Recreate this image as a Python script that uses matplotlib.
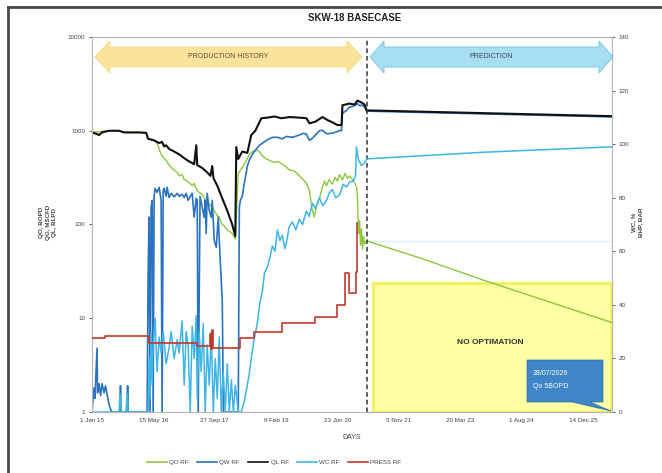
import matplotlib
matplotlib.use("Agg")
import matplotlib.pyplot as plt
import numpy as np
import pandas as pd
from matplotlib.patches import Polygon, Rectangle
from matplotlib.lines import Line2D

plt.rcParams['font.family'] = ['Liberation Sans', 'DejaVu Sans']

# ---------------- data (days since 1 Jan 2015) ----------------
start_date = "2015-01-01"
history_end_day = 2236
axis_end_day = 4235

ql_days = [0, 33, 57, 82, 139, 220, 261, 384, 441, 457, 506, 547, 570, 588, 604, 628, 669, 710, 751, 792,
           832, 849, 857, 898, 938, 965, 979, 990, 1020, 1061, 1102, 1142, 1167, 1175, 1191, 1224, 1265, 1297, 1330, 1379,
           1428, 1485, 1542, 1608, 1689, 1746, 1771, 1820, 1877, 1918, 1958, 1999, 2032, 2040, 2097, 2138, 2162, 2195, 2220]
ql_vals = [960, 930, 900, 960, 1000, 1000, 960, 960, 950, 820, 790, 740, 760, 680, 700, 640, 600, 560, 510, 470,
           440, 700, 430, 400, 360, 330, 420, 310, 260, 190, 140, 100, 75, 670, 500, 600, 580, 900, 1000, 1360,
           1380, 1420, 1360, 1400, 1380, 1360, 1200, 1250, 1400, 1300, 1230, 1150, 1150, 1870, 1950, 1900, 2100, 2000, 1900]
ql_fc_days = [2236, 3200, 4235]
ql_fc_vals = [1650, 1540, 1430]

qw_days = [0, 16, 24, 41, 45, 57, 70, 82, 98, 110, 139, 160, 228, 232, 237, 286, 290, 294, 449, 457,
           465, 473, 481, 490, 498, 506, 514, 530, 547, 563, 571, 580, 588, 604, 612, 628, 645, 669, 694, 710,
           734, 751, 767, 783, 800, 816, 832, 849, 857, 865, 880, 898, 914, 922, 930, 938, 955, 971, 979, 996,
           1012, 1028, 1045, 1061, 1070, 1191, 1200, 1208, 1224, 1240, 1257, 1265, 1281, 1306, 1330, 1363, 1387, 1428, 1469, 1510,
           1550, 1583, 1632, 1689, 1720, 1746, 1771, 1795, 1820, 1852, 1877, 1910, 1958, 1999, 2016, 2032, 2040, 2073, 2097, 2122,
           2146, 2162, 2179, 2195, 2220]
qw_vals = [1.0, 1.8, 1.4, 4.8, 1.6, 2.0, 1.5, 2.0, 1.6, 1.9, 1.2, 1.0, 1.0, 1.9, 1.0, 1.0, 1.9, 1.0, 1.0, 30,
           120, 1.0, 150, 181, 1.0, 200, 243, 220, 249, 181, 1.0, 230, 243, 200, 249, 194, 215, 197, 215, 200,
           210, 194, 215, 181, 200, 215, 120, 190, 181, 1.0, 200, 152, 119, 181, 80, 215, 141, 119, 181, 67,
           57, 120, 40, 15, 1.0, 1.0, 152, 181, 200, 275, 360, 420, 483, 560, 618, 700, 735, 800, 850, 851,
           820, 870, 851, 900, 940, 920, 791, 830, 900, 1000, 1011, 930, 940, 980, 1011, 1000, 1538, 1650, 1783, 1820,
           1875, 1950, 1850, 1875, 1800]
qw_fc_days = [2236, 4235]
qw_fc_vals = [1620, 1405]

qo_days = [0, 139, 220, 261, 441, 457, 506, 530, 547, 563, 580, 604, 628, 645, 669, 694, 710, 734, 751, 767,
           792, 816, 832, 857, 873, 898, 922, 938, 955, 979, 996, 1020, 1036, 1061, 1077, 1093, 1110, 1142, 1167, 1191,
           1224, 1257, 1281, 1306, 1346, 1363, 1387, 1420, 1450, 1485, 1510, 1542, 1575, 1608, 1632, 1660, 1689, 1720, 1746, 1771,
           1790, 1810, 1830, 1852, 1877, 1893, 1910, 1930, 1958, 1980, 1999, 2016, 2040, 2060, 2080, 2097, 2122, 2138, 2154, 2162,
           2171, 2179, 2187, 2195, 2203, 2211, 2220]
qo_vals = [960, 1000, 1000, 960, 950, 820, 780, 735, 640, 560, 520, 483, 430, 407, 380, 360, 330, 340, 300, 296,
           280, 260, 275, 230, 220, 210, 181, 190, 165, 152, 140, 125, 118, 100, 97, 90, 86, 80, 70, 350,
           407, 480, 560, 600, 618, 600, 540, 500, 480, 460, 470, 449, 420, 380, 378, 360, 330, 300, 275, 230,
           150, 120, 160, 190, 250, 290, 260, 300, 270, 320, 290, 340, 300, 350, 310, 330, 300, 280, 250, 200,
           80, 110, 60, 90, 55, 75, 62]
qo_fc_days = [2236, 2700, 3200, 3700, 4235]
qo_fc_vals = [67, 42.7, 25.2, 15.3, 9.0]

wc_days = [0, 220, 228, 237, 277, 286, 294, 457, 465, 473, 481, 490, 498, 514, 530, 547, 563, 580, 604, 628,
           645, 669, 694, 710, 734, 751, 767, 783, 800, 816, 832, 849, 857, 873, 889, 906, 922, 938, 955, 971,
           988, 1004, 1020, 1036, 1053, 1069, 1085, 1102, 1118, 1135, 1151, 1167, 1191, 1216, 1240, 1257, 1280, 1297, 1320, 1346,
           1365, 1387, 1405, 1428, 1450, 1469, 1490, 1510, 1530, 1550, 1570, 1583, 1605, 1632, 1660, 1689, 1715, 1746, 1770, 1795,
           1820, 1852, 1880, 1910, 1935, 1958, 1985, 2016, 2045, 2073, 2100, 2122, 2146, 2154, 2171, 2195, 2220]
wc_vals = [0, 0, 7, 0, 0, 7, 0, 0, 20, 5, 30, 10, 25, 35, 15, 28, 22, 30, 18, 24,
           30, 20, 27, 22, 34, 10, 30, 25, 0, 32, 20, 36, 5, 30, 15, 33, 0, 25, 10, 30,
           0, 20, 5, 28, 0, 15, 0, 18, 0, 12, 0, 10, 0, 0, 4, 8, 14, 20, 27, 33,
           40, 45, 52, 54, 58, 62, 60, 68, 64, 66, 61, 63, 69, 71, 68, 72, 70, 75, 73, 78,
           76, 80, 77, 79, 82, 83, 80, 81, 85, 84, 86, 86, 88, 99, 94, 92, 93]
wc_fc_days = [2236, 3200, 4235]
wc_fc_vals = [94.5, 97, 99]

bhp_days = [0, 106, 465, 857, 963, 971, 979, 988, 1020, 1208, 1322, 1550, 1820, 1999, 2057, 2097, 2154, 2158]
bhp_vals = [27.6, 28.4, 25.8, 24.5, 29.0, 23.5, 30.5, 24.0, 23.9, 27.6, 30.0, 33.2, 35.5, 39.9, 51.9, 44.4, 52.3, 70.6]

legend_labels = ["QO RF", "QW RF", "QL RF", "WC RF", "PRESS RF"]
xtick_days = [0, 500, 1000, 1500, 2000, 2500, 3000, 3500, 4000]
xtick_labels = ["1 Jan 15", "15 May 16", "27 Sep 17", "9 Feb 19", "23 Jun 20",
                "5 Nov 21", "20 Mar 23", "1 Aug 24", "14 Dec 25"]
left_ticks = [1, 10, 100, 1000, 10000]
left_tick_labels = ["1", "10", "100", "1000", "10000"]
right_ticks = [0, 20, 40, 60, 80, 100, 120, 140]

base = pd.Timestamp(start_date)
def D(days):
    return base + pd.to_timedelta(np.asarray(days, dtype=float), unit="D")

# ---------------- figure ----------------
W, H = 662, 473
fig = plt.figure(figsize=(W / 100, H / 100), dpi=100)
def fx(px): return px / W
def fy(py): return 1 - py / H

ax = fig.add_axes([fx(92), fy(412), fx(612) - fx(92), fy(37) - fy(412)])
ax2 = ax.twinx()

c_qo = "#8cc63f"
c_qw = "#2a73c0"
c_ql = "#111111"
c_wc = "#3fb4e6"
c_bhp = "#c0392b"

# No-optimisation area (yellow)
ax.add_patch(Rectangle((D(2285)[()] if False else pd.Timestamp(D([2285])[0]), 1),
                       pd.Timedelta(days=axis_end_day - 2285 - 6), 24 - 1,
                       facecolor="#ffffa3", edgecolor="#f4f05c", lw=2.0, zorder=1))
ax.plot(D([history_end_day, axis_end_day]), [67, 67], color="#d6eef8", lw=1.0, zorder=1.5)

ax.plot(D(qo_days + qo_fc_days), qo_vals + qo_fc_vals, color=c_qo, lw=1.0, zorder=2)
ax.plot(D(qw_days + qw_fc_days), qw_vals + qw_fc_vals, color=c_qw, lw=1.2, zorder=3)
ax.plot(D(ql_days + ql_fc_days), ql_vals + ql_fc_vals, color=c_ql, lw=1.5, zorder=4)
ax.axvline(D([history_end_day])[0], color="#333333", lw=1.1, ls=(0, (3, 2)), zorder=5)

ax2.plot(D(wc_days + wc_fc_days), wc_vals + wc_fc_vals, color=c_wc, lw=1.1, zorder=2)
ax2.plot(D(bhp_days), bhp_vals, color=c_bhp, lw=1.2, drawstyle="steps-post", zorder=3)

ax.set_yscale("log")
ax.set_ylim(1, 10000)
ax.set_yticks(left_ticks)
ax.set_yticklabels(left_tick_labels)
ax.minorticks_off()
ax.yaxis.set_minor_locator(matplotlib.ticker.NullLocator())
ax.set_xlim(D([0])[0], D([axis_end_day])[0])
ax.set_xticks(D(xtick_days))
ax.set_xticklabels(xtick_labels)
ax2.set_ylim(0, 140)
ax2.set_yticks(right_ticks)

for a in (ax, ax2):
    a.tick_params(labelsize=4.5, colors="#404040", length=2, width=0.6, pad=3)
    for s in a.spines.values():
        s.set_color("#b5b5b5")
        s.set_linewidth(0.8)
ax.tick_params(axis="x", length=0, pad=4)

# ---------------- text & decorations ----------------
fig.text(fx(355), fy(18), "SKW-18 BASECASE", ha="center", va="center", fontsize=7, fontweight="bold", color="#222222")
fig.text(fx(352), fy(437), "DAYS", ha="center", va="center", fontsize=5, color="#444444")
fig.text(fx(48), fy(222), "QO, BOPD\nQG, MSCFD\nQL, BLPD", rotation=90, ha="center", va="center",
         fontsize=4.5, fontweight="bold", color="#444444", linespacing=1.4)
fig.text(fx(637), fy(222), "WC, %\nBHP, BAR", rotation=90, ha="center", va="center",
         fontsize=4.5, fontweight="bold", color="#444444", linespacing=1.6)

def double_arrow(x0, x1, yc, h, hh, L, fc, ec):
    pts = [(x0, yc), (x0 + L, yc - hh), (x0 + L, yc - h), (x1 - L, yc - h), (x1 - L, yc - hh),
           (x1, yc), (x1 - L, yc + hh), (x1 - L, yc + h), (x0 + L, yc + h), (x0 + L, yc + hh)]
    pts = [(fx(x), fy(y)) for x, y in pts]
    fig.add_artist(Polygon(pts, closed=True, transform=fig.transFigure, facecolor=fc, edgecolor=ec, lw=0.6))

double_arrow(95, 362, 57, 10, 16, 15, "#fbe39b", "#f5d77a")
fig.text(fx(228), fy(57), "PRODUCTION HISTORY", ha="center", va="center", fontsize=5, color="#5a5030")
double_arrow(370, 613, 57, 10, 16, 14, "#a8def1", "#72c3e3")
fig.text(fx(491), fy(57), "PREDICTION", ha="center", va="center", fontsize=5, color="#3a4a5a")

fig.text(fx(490), fy(342), "NO OPTIMATION", ha="center", va="center", fontsize=6, fontweight="bold", color="#333333")

callout = [(527, 360), (603, 360), (603, 402), (590, 402), (611, 411), (572, 402), (527, 402)]
fig.add_artist(Polygon([(fx(x), fy(y)) for x, y in callout], closed=True, transform=fig.transFigure,
                       facecolor="#3f86c9", edgecolor="#2f6ea8", lw=0.5))
fig.text(fx(533), fy(373), "28/07/2026", ha="left", va="center", fontsize=5, color="white")
fig.text(fx(533), fy(386), "Qo 5BOPD", ha="left", va="center", fontsize=5, color="white")

handles = [Line2D([], [], color=c, lw=1.2) for c in (c_qo, c_qw, c_ql, c_wc, c_bhp)]
fig.legend(handles, legend_labels, loc="center", bbox_to_anchor=(fx(274), fy(462)), ncol=5, frameon=False,
           fontsize=4.5, handlelength=3.2, columnspacing=1.3, handletextpad=0.4, labelcolor="#444444")

fig.add_artist(Line2D([fx(8), fx(8)], [fy(7), 0], transform=fig.transFigure, color="#4a4a4a", lw=2))
fig.add_artist(Line2D([fx(8), 1], [fy(7), fy(7)], transform=fig.transFigure, color="#4a4a4a", lw=2))

fig.savefig("out.png", dpi=100)
